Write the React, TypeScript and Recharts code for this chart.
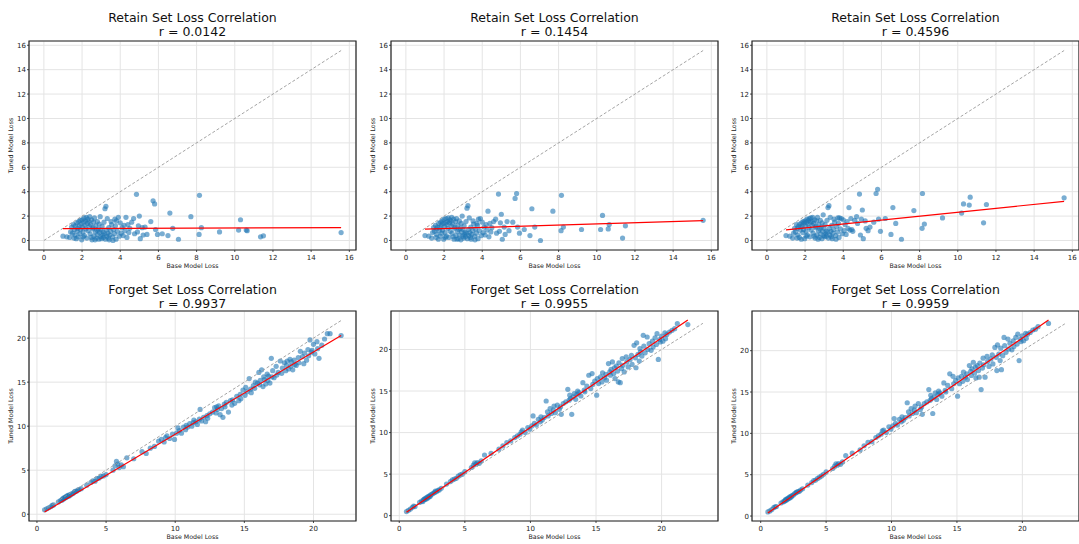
import React from "react";
import {
  ScatterChart,
  Scatter,
  XAxis,
  YAxis,
  CartesianGrid,
  ReferenceArea,
} from "recharts";

// retain set: base model loss is shared by the three runs
const retainBase = [
  1.0, 1.2, 1.35, 1.4, 1.45, 1.5, 1.55, 1.58, 1.6, 1.62,
  1.65, 1.7, 1.72, 1.75, 1.78, 1.8, 1.82, 1.85, 1.88, 1.9,
  1.92, 1.95, 1.98, 2.0, 2.02, 2.05, 2.06, 2.08, 2.1, 2.12,
  2.15, 2.18, 2.2, 2.22, 2.25, 2.28, 2.3, 2.32, 2.35, 2.38,
  2.4, 2.42, 2.45, 2.48, 2.5, 2.52, 2.55, 2.58, 2.6, 2.62,
  2.65, 2.68, 2.7, 2.72, 2.75, 2.78, 2.8, 2.82, 2.85, 2.88,
  2.9, 2.92, 2.95, 2.98, 3.0, 3.02, 3.05, 3.08, 3.1, 3.12,
  3.15, 3.18, 3.2, 3.22, 3.25, 3.28, 3.3, 3.32, 3.35, 3.38,
  3.4, 3.42, 3.45, 3.5, 3.52, 3.55, 3.6, 3.62, 3.65, 3.7,
  3.72, 3.75, 3.78, 3.8, 3.85, 3.9, 3.95, 4.0, 4.05, 4.1,
  4.15, 4.2, 4.25, 4.3, 4.35, 4.4, 4.45, 4.5, 4.6, 4.7,
  4.75, 4.85, 4.9, 4.95, 5.0, 5.05, 5.15, 5.2, 5.3, 5.4,
  5.6, 5.72, 5.8, 5.85, 5.95, 6.2, 6.5, 6.6, 6.75, 7.05,
  7.7, 8.13, 8.15, 8.25, 9.2, 10.2, 10.3, 10.6, 10.65, 11.35,
  11.5, 15.57,
];

const retainTunedA = [
  0.35, 0.3, 0.25, 0.7, 1.1, 0.6, 1.3, 0.2, 0.9, 0.45,
  1.2, 0.15, 1.45, 0.75, 1.0, 0.3, 1.55, 1.2, 0.55, 1.65,
  0.9, 1.35, 0.05, 1.7, 1.1, 0.7, 0.3, 1.5, 1.85, 0.4,
  1.25, 1.6, 0.95, 1.9, 0.2, 1.4, 1.75, 0.8, 1.55, 1.15,
  1.95, 0.55, 1.3, 0.25, 1.7, 0.05, 0.95, 1.05, 1.5, 0.35,
  1.85, 0.05, 0.7, 1.2, 0.2, 0.85, 1.55, 0.5, 0.95, 0.1,
  1.35, 0.65, 1.95, 0.3, 0.85, 0.15, 1.15, 0.45, 0.7, 0.25,
  1.5, 0.55, 2.6, 0.1, 2.8, 0.85, 0.35, 1.8, 0.6, 0.2,
  1.05, 0.05, 0.45, 0.75, 1.55, 1.3, 0.3, 0.0, 0.9, 0.55,
  1.75, 1.2, 0.1, 1.6, 0.75, 1.9, 0.35, 1.45, 0.6, 1.05,
  0.4, 1.25, 0.8, 1.9, 0.25, 1.3, 0.65, 1.0, 1.5, 1.8,
  0.55, 3.78, 0.7, 1.2, 2.0, 0.15, 1.05, 0.45, 1.1, 0.5,
  1.55, 3.25, 3.0, 0.9, 0.5, 0.55, 0.4, 2.25, 1.0, 0.1,
  1.95, 0.5, 3.7, 1.05, 0.7, 0.85, 1.7, 0.85, 0.8, 0.3,
  0.38, 0.65,
];

const retainTunedB = [
  0.4, 0.35, 0.2, 0.65, 1.05, 0.75, 1.25, 0.25, 0.95, 0.5,
  1.1, 0.1, 1.4, 0.8, 1.05, 0.35, 1.5, 1.25, 0.6, 1.6,
  0.85, 1.4, 0.1, 1.75, 1.15, 0.65, 0.25, 1.45, 1.8, 0.35,
  1.3, 1.55, 1.0, 1.85, 0.25, 1.45, 1.7, 0.75, 1.6, 1.2,
  1.9, 0.6, 1.35, 0.3, 1.75, 0.1, 1.0, 1.1, 1.55, 0.4,
  1.8, 0.1, 0.75, 1.25, 0.15, 0.9, 1.6, 0.45, 1.0, 0.05,
  1.4, 0.7, 2.0, 0.35, 0.9, 0.2, 1.2, 0.5, 0.65, 0.3,
  1.55, 0.6, 2.65, 0.15, 2.85, 0.9, 0.4, 1.85, 0.65, 0.25,
  1.1, 0.1, 0.5, 0.8, 1.6, 1.35, 0.35, 0.05, 0.95, 0.6,
  1.4, 1.25, 0.15, 1.75, 0.8, 1.8, 0.4, 1.5, 0.65, 1.1,
  0.45, 1.3, 0.85, 2.4, 0.3, 1.4, 0.7, 1.05, 1.55, 1.75,
  0.6, 3.8, 0.75, 1.45, 2.15, 0.1, 1.1, 0.5, 1.55, 0.8,
  1.5, 3.45, 3.85, 1.1, 0.6, 0.9, 0.4, 2.6, 1.1, 0.0,
  2.4, 0.8, 3.7, 1.1, 0.9, 0.9, 2.05, 0.95, 1.3, 0.2,
  1.2, 1.65,
];

const retainTunedC = [
  0.4, 0.35, 0.2, 0.6, 1.0, 0.7, 1.3, 0.2, 1.0, 0.45,
  1.15, 0.25, 1.35, 0.85, 1.1, 0.1, 1.45, 1.2, 0.65, 1.55,
  0.9, 1.45, 0.15, 1.6, 1.2, 0.75, 0.35, 1.5, 1.75, 0.45,
  1.35, 1.65, 1.05, 1.8, 0.3, 1.5, 1.85, 0.85, 1.55, 1.25,
  1.9, 0.6, 1.4, 0.35, 1.7, 0.2, 1.05, 1.15, 1.6, 0.45,
  1.9, 0.1, 0.8, 1.3, 0.25, 0.95, 1.65, 0.55, 1.1, 0.15,
  1.45, 0.75, 2.1, 0.4, 1.0, 0.3, 1.3, 0.55, 0.75, 0.35,
  1.65, 0.7, 2.7, 0.2, 2.85, 1.0, 0.45, 1.9, 0.75, 0.3,
  1.25, 0.15, 0.6, 0.9, 1.75, 1.5, 0.4, 0.1, 1.15, 0.7,
  1.85, 1.4, 0.25, 1.85, 0.95, 1.8, 0.55, 1.7, 0.8, 1.3,
  0.5, 1.55, 1.0, 2.7, 0.85, 1.8, 0.9, 0.75, 1.65, 1.95,
  1.4, 3.8, 0.45, 1.75, 2.5, 0.15, 1.6, 1.0, 0.8, 1.1,
  1.5, 3.85, 4.2, 1.75, 0.75, 1.8, 0.5, 2.7, 1.4, 0.1,
  2.45, 1.0, 3.85, 1.35, 1.85, 2.25, 3.0, 2.9, 3.55, 1.45,
  2.95, 3.5,
];

// forget set: base model loss is shared by the three runs
const forgetBase = [
  0.55, 0.7, 0.85, 1.0, 1.1, 1.2, 1.55, 1.7, 1.8, 1.85,
  1.9, 1.95, 2.0, 2.05, 2.1, 2.15, 2.2, 2.25, 2.3, 2.35,
  2.4, 2.5, 2.6, 2.7, 2.75, 2.85, 2.95, 3.05, 3.2, 3.6,
  3.9, 4.05, 4.2, 4.35, 4.5, 4.65, 4.8, 5.0, 5.5, 5.65,
  5.75, 5.85, 5.95, 6.1, 6.25, 6.5, 7.0, 7.6, 7.9, 8.2,
  8.5, 8.8, 9.0, 9.2, 9.3, 9.4, 9.6, 9.8, 9.95, 10.1,
  10.2, 10.3, 10.45, 10.6, 10.75, 10.8, 10.9, 11.05, 11.2, 11.3,
  11.35, 11.5, 11.6, 11.75, 11.8, 11.9, 12.05, 12.2, 12.3, 12.35,
  12.5, 12.7, 12.85, 12.95, 13.0, 13.05, 13.15, 13.25, 13.35, 13.45,
  13.55, 13.6, 13.7, 13.85, 14.0, 14.1, 14.15, 14.3, 14.45, 14.6,
  14.7, 14.75, 14.9, 15.05, 15.1, 15.2, 15.35, 15.45, 15.5, 15.65,
  15.75, 15.8, 15.95, 16.05, 16.1, 16.15, 16.25, 16.35, 16.4, 16.45,
  16.55, 16.65, 16.7, 16.75, 16.85, 16.95, 17.0, 17.05, 17.15, 17.3,
  17.35, 17.45, 17.6, 17.7, 17.75, 17.9, 18.0, 18.05, 18.1, 18.2,
  18.3, 18.35, 18.4, 18.5, 18.6, 18.65, 18.75, 18.9, 18.95, 19.05,
  19.2, 19.3, 19.35, 19.5, 19.6, 19.65, 19.75, 19.85, 19.9, 20.0,
  20.1, 20.25, 20.3, 20.4, 20.6, 20.8, 21.0, 21.2, 22.0,
];

const forgetTunedA = [
  0.5, 0.62, 0.72, 0.85, 1.0, 1.05, 1.4, 1.55, 1.6, 1.75,
  1.7, 1.85, 1.8, 1.95, 1.9, 2.05, 2.0, 2.15, 2.05, 2.2,
  2.15, 2.3, 2.35, 2.5, 2.6, 2.6, 2.75, 2.8, 2.9, 3.3,
  3.6, 3.8, 3.75, 4.05, 4.1, 4.3, 4.35, 4.5, 5.0, 5.5,
  6.0, 5.7, 5.3, 5.6, 5.4, 6.4, 6.3, 7.1, 6.9, 7.5,
  7.7, 8.3, 8.5, 8.2, 8.7, 8.9, 8.6, 9.1, 8.5, 9.2,
  9.8, 9.5, 9.2, 9.9, 9.6, 10.1, 9.9, 10.3, 10.0, 10.4,
  10.7, 10.5, 10.2, 10.8, 11.9, 10.6, 11.0, 10.5, 11.2, 10.9,
  11.4, 11.6, 12.1, 11.5, 12.2, 11.9, 12.3, 11.3, 12.0, 11.0,
  12.5, 12.2, 12.7, 11.6, 12.9, 12.4, 13.0, 12.6, 13.4, 12.9,
  13.6, 13.1, 14.1, 13.5, 14.4, 13.9, 15.4, 14.2, 13.8, 14.6,
  14.3, 15.0, 14.9, 16.1, 14.7, 15.2, 16.4, 14.5, 15.6, 15.3,
  14.8, 15.9, 15.2, 15.7, 14.9, 17.7, 15.6, 16.3, 15.5, 16.8,
  15.8, 16.1, 17.4, 16.0, 16.6, 17.2, 16.3, 16.9, 17.4, 16.5,
  17.6, 16.8, 17.3, 16.4, 17.5, 17.0, 16.9, 17.8, 17.2, 18.5,
  17.9, 17.1, 18.3, 17.5, 18.7, 18.0, 19.8, 18.4, 18.6, 19.3,
  18.2, 19.6, 18.8, 17.7, 19.2, 19.9, 20.5, 20.5, 20.3,
];

const forgetTunedB = [
  0.5, 0.65, 0.8, 1.0, 1.15, 1.1, 1.6, 1.75, 1.7, 1.9,
  2.0, 1.95, 2.1, 2.0, 2.2, 2.1, 2.3, 2.25, 2.4, 2.3,
  2.5, 2.6, 2.7, 2.8, 2.95, 2.9, 3.05, 3.1, 3.3, 3.8,
  4.1, 4.3, 4.4, 4.5, 4.75, 4.9, 5.0, 5.3, 5.8, 6.1,
  6.35, 6.2, 6.4, 6.3, 6.6, 7.3, 7.5, 8.0, 8.4, 8.8,
  9.0, 9.4, 9.6, 9.8, 10.1, 10.3, 10.0, 10.6, 10.4, 10.8,
  12.0, 11.1, 10.9, 11.6, 11.3, 11.9, 11.5, 11.8, 13.8, 12.5,
  12.0, 12.9, 12.3, 12.7, 13.2, 12.4, 13.3, 12.8, 13.1, 12.2,
  13.5, 13.7, 15.2, 13.9, 14.5, 14.1, 12.2, 14.3, 14.7, 14.0,
  14.6, 15.0, 14.8, 14.4, 16.0, 15.1, 14.9, 15.6, 16.9, 15.3,
  17.1, 15.8, 16.2, 14.5, 16.5, 15.9, 16.7, 16.1, 17.2, 16.6,
  17.0, 16.3, 18.3, 17.3, 16.9, 17.6, 18.5, 17.1, 17.8, 16.5,
  18.0, 17.4, 16.1, 18.4, 16.0, 17.7, 18.9, 18.1, 17.3, 19.1,
  18.5, 17.9, 18.8, 19.3, 18.2, 20.5, 19.0, 17.8, 20.8, 19.4,
  18.6, 20.1, 19.7, 19.2, 21.7, 20.4, 19.6, 21.5, 20.0, 20.7,
  19.9, 21.0, 20.3, 21.4, 20.6, 21.9, 18.8, 21.2, 20.9, 21.6,
  21.0, 22.0, 21.3, 21.8, 22.1, 22.3, 22.5, 23.1, 23.0,
];

const forgetTunedC = [
  0.5, 0.62, 0.78, 1.02, 1.12, 1.15, 1.58, 1.72, 1.75, 1.88,
  1.98, 1.92, 2.08, 2.02, 2.18, 2.12, 2.28, 2.22, 2.38, 2.32,
  2.48, 2.55, 2.72, 2.82, 2.9, 2.95, 3.0, 3.15, 3.3, 3.75,
  4.05, 4.3, 4.35, 4.55, 4.7, 4.85, 5.05, 5.35, 5.75, 6.05,
  6.3, 6.15, 6.35, 6.25, 6.55, 7.3, 7.6, 8.0, 8.5, 8.9,
  9.0, 9.5, 9.7, 9.9, 10.3, 10.4, 10.1, 10.8, 10.5, 10.9,
  11.8, 11.2, 11.0, 11.7, 11.4, 12.0, 11.6, 11.9, 13.7, 12.6,
  12.1, 13.0, 12.4, 12.8, 13.3, 12.5, 13.6, 12.9, 13.2, 12.3,
  13.6, 13.8, 15.3, 14.0, 14.6, 14.2, 12.4, 14.4, 14.9, 14.1,
  14.7, 15.1, 14.9, 14.5, 16.1, 15.2, 15.0, 15.8, 17.2, 15.4,
  16.9, 16.0, 16.4, 14.5, 16.7, 16.0, 16.9, 16.3, 17.4, 16.8,
  17.2, 16.5, 18.2, 17.5, 17.0, 17.8, 18.6, 17.3, 18.0, 16.7,
  18.2, 17.6, 16.8, 18.5, 15.3, 17.9, 19.1, 18.3, 16.8, 19.3,
  18.7, 18.1, 19.0, 19.5, 18.4, 20.4, 19.2, 17.6, 20.7, 19.6,
  18.8, 20.3, 17.7, 19.4, 21.6, 20.6, 19.8, 21.4, 20.2, 20.9,
  20.1, 21.2, 20.5, 21.6, 20.8, 22.0, 18.8, 21.4, 21.1, 21.8,
  21.2, 22.1, 21.5, 22.0, 22.2, 22.5, 22.6, 22.9, 23.3,
];

const retainR = ["0.0142", "0.1454", "0.4596"];
const forgetR = ["0.9937", "0.9955", "0.9959"];
const retainTicks = [0, 2, 4, 6, 8, 10, 12, 14, 16];
const forgetTicks = [0, 5, 10, 15, 20];

// regression line end points
const retainFitX = [1.0, 15.57];
const retainFitY = [[0.98, 1.05], [0.93, 1.63], [0.87, 3.21]];
const forgetFitX = [0.55, 22.0];
const forgetFitY = [[0.25, 20.3], [0.42, 23.55], [0.38, 23.7]];

// y = x reference line
const retainDiag = [[0, 15.57], [0, 15.57], [0, 15.57]];
const forgetDiag = [[0.45, 22.0], [0.45, 23.15], [0.45, 23.25]];

const toPoints = (xs: number[], ys: number[]) =>
  xs.map((x, i) => ({ x, y: ys[i] }));

const PLOT_W = 327;
const Y_W = 29;
const X_H = 20;

interface PanelProps {
  left: number;
  top: number;
  plotH: number;
  titleTop: number;
  title: string;
  r: string;
  points: { x: number; y: number }[];
  fit: { x: number; y: number }[];
  diag: { x: number; y: number }[];
  xDomain: [number, number];
  yDomain: [number, number];
  ticks: number[];
}

function Panel({
  left,
  top,
  plotH,
  titleTop,
  title,
  r,
  points,
  fit,
  diag,
  xDomain,
  yDomain,
  ticks,
}: PanelProps) {
  const w = Y_W + PLOT_W + 2;
  const h = plotH + X_H + 2;
  const tickStyle = { fontSize: 7, fill: "#222" };

  return (
    <>
      <div
        style={{
          position: "absolute",
          left,
          top: titleTop,
          width: PLOT_W,
          textAlign: "center",
          fontSize: 12.5,
          lineHeight: "14.6px",
          color: "#111",
        }}
      >
        {title}
        <br />r = {r}
      </div>
      <div style={{ position: "absolute", left: left - Y_W, top: top - 2 }}>
        <ScatterChart
          width={w}
          height={h}
          margin={{ top: 2, right: 2, bottom: 0, left: 0 }}
        >
          <CartesianGrid stroke="#e4e4e4" strokeWidth={1} />
          <XAxis
            type="number"
            dataKey="x"
            domain={xDomain}
            ticks={ticks}
            interval={0}
            allowDataOverflow
            height={X_H}
            tickSize={2}
            tickMargin={3}
            tick={tickStyle}
            tickLine={{ stroke: "#222", strokeWidth: 0.8 }}
            axisLine={false}
            label={{
              value: "Base Model Loss",
              position: "insideBottom",
              offset: 2,
              fontSize: 6.3,
              fill: "#222",
            }}
          />
          <YAxis
            type="number"
            dataKey="y"
            domain={yDomain}
            ticks={ticks}
            interval={0}
            allowDataOverflow
            width={Y_W}
            tickSize={2}
            tickMargin={1}
            tick={tickStyle}
            tickLine={{ stroke: "#222", strokeWidth: 0.8 }}
            axisLine={false}
            label={{
              value: "Tuned Model Loss",
              position: "insideLeft",
              angle: -90,
              offset: 11,
              fontSize: 6.3,
              fill: "#222",
              style: { textAnchor: "middle" },
            }}
          />
          <Scatter
            data={points}
            isAnimationActive={false}
            shape={(p: any) => (
              <circle
                cx={p.cx}
                cy={p.cy}
                r={2.6}
                fill="#1f77b4"
                fillOpacity={0.6}
              />
            )}
          />
          <Scatter
            data={diag}
            isAnimationActive={false}
            line={{ stroke: "#9a9a9a", strokeWidth: 0.9, strokeDasharray: "3 2" }}
            shape={() => <g />}
          />
          <Scatter
            data={fit}
            isAnimationActive={false}
            line={{ stroke: "#ff0000", strokeWidth: 1.2 }}
            shape={() => <g />}
          />
          <ReferenceArea
            x1={xDomain[0]}
            x2={xDomain[1]}
            y1={yDomain[0]}
            y2={yDomain[1]}
            fill="none"
            stroke="#222"
            strokeWidth={1.2}
            ifOverflow="visible"
          />
        </ScatterChart>
      </div>
    </>
  );
}

const COLS = [29, 391, 752];

export default function App() {
  const retainTuned = [retainTunedA, retainTunedB, retainTunedC];
  const forgetTuned = [forgetTunedA, forgetTunedB, forgetTunedC];
  const forgetXDomains: [number, number][] = [
    [-0.575, 23.075],
    [-0.63, 24.3],
    [-0.665, 24.33],
  ];
  const forgetYDomains: [number, number][] = [
    [-0.77, 23.08],
    [-0.64, 24.63],
    [-0.6, 24.8],
  ];

  return (
    <div
      style={{
        position: "absolute",
        left: 0,
        top: 0,
        width: 1079,
        height: 544,
        overflow: "hidden",
        background: "#fff",
        fontFamily: "'DejaVu Sans', sans-serif",
      }}
    >
      {COLS.map((left, i) => (
        <Panel
          key={"retain" + i}
          left={left}
          top={41}
          plotH={209}
          titleTop={10.6}
          title="Retain Set Loss Correlation"
          r={retainR[i]}
          points={toPoints(retainBase, retainTuned[i])}
          fit={toPoints(retainFitX, retainFitY[i])}
          diag={toPoints(retainDiag[i], retainDiag[i])}
          xDomain={[-0.78, 16.35]}
          yDomain={[-0.78, 16.35]}
          ticks={retainTicks}
        />
      ))}
      {COLS.map((left, i) => (
        <Panel
          key={"forget" + i}
          left={left}
          top={311}
          plotH={210}
          titleTop={282.6}
          title="Forget Set Loss Correlation"
          r={forgetR[i]}
          points={toPoints(forgetBase, forgetTuned[i])}
          fit={toPoints(forgetFitX, forgetFitY[i])}
          diag={toPoints(forgetDiag[i], forgetDiag[i])}
          xDomain={forgetXDomains[i]}
          yDomain={forgetYDomains[i]}
          ticks={forgetTicks}
        />
      ))}
    </div>
  );
}
